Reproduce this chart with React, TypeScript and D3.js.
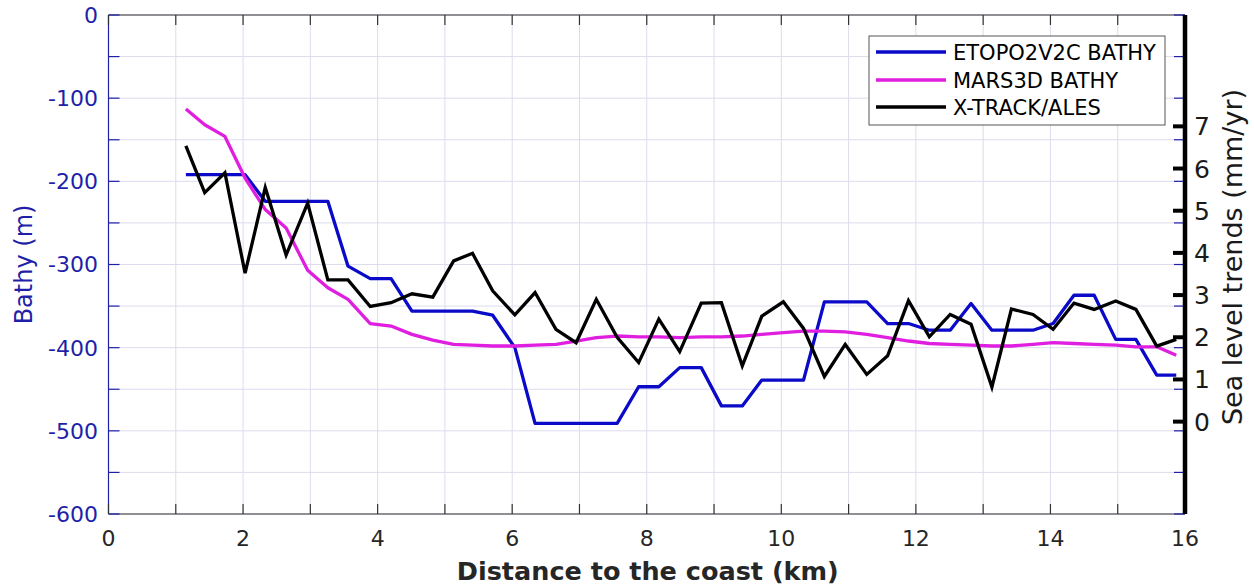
import React from 'react';
import * as d3 from 'd3';

const distanceKm = [1.15, 1.43, 1.73, 2.03, 2.33, 2.64, 2.96, 3.26, 3.56, 3.89, 4.2, 4.51, 4.82, 5.13, 5.41, 5.71, 6.04, 6.34, 6.65, 6.95, 7.25, 7.56, 7.88, 8.18, 8.49, 8.81, 9.11, 9.42, 9.71, 10.03, 10.33, 10.64, 10.95, 11.27, 11.58, 11.89, 12.2, 12.51, 12.82, 13.13, 13.42, 13.74, 14.04, 14.35, 14.65, 14.97, 15.27, 15.58, 15.87];

const etopoBathy = [-192, -192, -192, -192, -224, -224, -224, -224, -302, -317, -317, -356, -356, -356, -356, -361, -400, -491, -491, -491, -491, -491, -447, -447, -424, -424, -470, -470, -439, -439, -439, -345, -345, -345, -371, -371, -379, -379, -347, -379, -379, -379, -371, -337, -337, -390, -390, -433, -433];

const mars3dBathy = [-113, -132, -146, -196, -234, -256, -307, -328, -342, -371, -374, -384, -391, -396, -397, -398, -398, -397, -396, -392, -388, -386, -387, -387, -388, -387, -387, -386, -384, -382, -380, -380, -381, -384, -388, -392, -395, -396, -397, -398, -398, -396, -394, -395, -396, -397, -399, -399, -409];

const xtrackTrend = [6.54, 5.43, 5.9, 3.52, 5.55, 3.95, 5.18, 3.36, 3.36, 2.73, 2.82, 3.03, 2.95, 3.81, 3.99, 3.1, 2.53, 3.06, 2.19, 1.87, 2.9, 2.0, 1.4, 2.43, 1.66, 2.81, 2.82, 1.32, 2.5, 2.84, 2.21, 1.07, 1.83, 1.12, 1.56, 2.87, 2.01, 2.54, 2.31, 0.82, 2.67, 2.54, 2.19, 2.81, 2.66, 2.86, 2.66, 1.79, 1.95];

const xTickLabels = [0, 2, 4, 6, 8, 10, 12, 14, 16];
const xMinorTicks = [1, 3, 5, 7, 9, 11, 13, 15];
const bathyTickLabels = [0, -100, -200, -300, -400, -500, -600];
const bathyMinorTicks = [-50, -150, -250, -350, -450, -550];
const trendTickLabels = [0, 1, 2, 3, 4, 5, 6, 7];

const seriesNames = ['ETOPO2V2C BATHY', 'MARS3D BATHY', 'X-TRACK/ALES'];
const seriesColors = ['#0a0ac8', '#e01ee0', '#000000'];

export default function App() {
  const W = 1254, H = 585;
  const left = 108.5, right = 1185, top = 15, bottom = 514;
  const x = d3.scaleLinear().domain([0, 16]).range([left, right]);
  const yL = d3.scaleLinear().domain([-600, 0]).range([bottom, top]);
  const yR = d3.scaleLinear().domain([-2.19, 9.64]).range([bottom, top]);

  const etopoPath = d3.line<number>().x((_, i) => x(distanceKm[i])).y(d => yL(d))(etopoBathy) || '';
  const marsPath = d3.line<number>().x((_, i) => x(distanceKm[i])).y(d => yL(d))(mars3dBathy) || '';
  const xtrackPath = d3.line<number>().x((_, i) => x(distanceKm[i])).y(d => yR(d))(xtrackTrend) || '';

  const allX = [...xTickLabels, ...xMinorTicks];
  const allY = [...bathyTickLabels, ...bathyMinorTicks];
  const font = "'DejaVu Sans', sans-serif";
  const gridColor = '#dcdcee';
  const leftColor = '#1f1fa8';

  const legX = 869, legY = 36, legW = 296, legH = 89;
  const legRows = [52, 80, 107];

  return (
    <svg width={W} height={H} style={{ position: 'absolute', left: 0, top: 0, background: '#fff' }} fontFamily={font}>
      <rect x={0} y={0} width={W} height={H} fill="#fff" />
      {allX.map(v => (
        <line key={'gx' + v} x1={x(v)} x2={x(v)} y1={top} y2={bottom} stroke={gridColor} strokeWidth={1} />
      ))}
      {allY.map(v => (
        <line key={'gy' + v} x1={left} x2={right} y1={yL(v)} y2={yL(v)} stroke={gridColor} strokeWidth={1} />
      ))}
      <path d={etopoPath} fill="none" stroke={seriesColors[0]} strokeWidth={3.3} strokeLinejoin="round" />
      <path d={marsPath} fill="none" stroke={seriesColors[1]} strokeWidth={3.3} strokeLinejoin="round" />
      <path d={xtrackPath} fill="none" stroke={seriesColors[2]} strokeWidth={3.3} strokeLinejoin="miter" />
      <line x1={left} x2={right} y1={top} y2={top} stroke="#333" strokeWidth={1.2} />
      <line x1={left} x2={right} y1={bottom} y2={bottom} stroke="#333" strokeWidth={1.2} />
      <line x1={left} x2={left} y1={top} y2={bottom} stroke={leftColor} strokeWidth={1.2} />
      {allX.map(v => (
        <g key={'xt' + v}>
          <line x1={x(v)} x2={x(v)} y1={bottom} y2={bottom - 10} stroke="#333" strokeWidth={1.2} />
          <line x1={x(v)} x2={x(v)} y1={top} y2={top + 10} stroke="#333" strokeWidth={1.2} />
        </g>
      ))}
      {xTickLabels.map(v => (
        <text key={'xl' + v} x={x(v)} y={546} textAnchor="middle" fontSize={22} fill="#262626">{v}</text>
      ))}
      {allY.map(v => (
        <g key={'yt' + v}>
          <line x1={left} x2={left + 11} y1={yL(v)} y2={yL(v)} stroke={leftColor} strokeWidth={1.2} />
          <line x1={right - 11} x2={right} y1={yL(v)} y2={yL(v)} stroke={leftColor} strokeWidth={1.2} />
        </g>
      ))}
      {bathyTickLabels.map(v => (
        <text key={'yl' + v} x={98} y={yL(v)} dy="0.36em" textAnchor="end" fontSize={22} fill={leftColor}>{v}</text>
      ))}
      <text transform={`translate(32,${(top + bottom) / 2}) rotate(-90)`} textAnchor="middle" fontSize={24} fill={leftColor}>Bathy (m)</text>
      <line x1={right} x2={right} y1={top} y2={bottom} stroke="#000" strokeWidth={4.5} />
      {trendTickLabels.map(v => (
        <g key={'rt' + v}>
          <line x1={right - 12} x2={right} y1={yR(v)} y2={yR(v)} stroke="#000" strokeWidth={4} />
          <text x={1194} y={yR(v)} dy="0.36em" fontSize={25} fill="#1a1a1a">{v}</text>
        </g>
      ))}
      <text transform={`translate(1242,257) rotate(-90)`} textAnchor="middle" fontSize={27} fill="#1a1a1a">Sea level trends (mm/yr)</text>
      <text x={(left + right) / 2 + 1} y={580} textAnchor="middle" fontSize={25.5} fontWeight="bold" fill="#262626">Distance to the coast (km)</text>
      <rect x={legX} y={legY} width={legW} height={legH} fill="#fff" stroke="#555" strokeWidth={1} />
      {seriesNames.map((n, i) => (
        <g key={n}>
          <line x1={876} x2={946} y1={legRows[i]} y2={legRows[i]} stroke={seriesColors[i]} strokeWidth={3.3} />
          <text x={953} y={legRows[i]} dy="0.36em" fontSize={21} fill="#000">{n}</text>
        </g>
      ))}
    </svg>
  );
}
